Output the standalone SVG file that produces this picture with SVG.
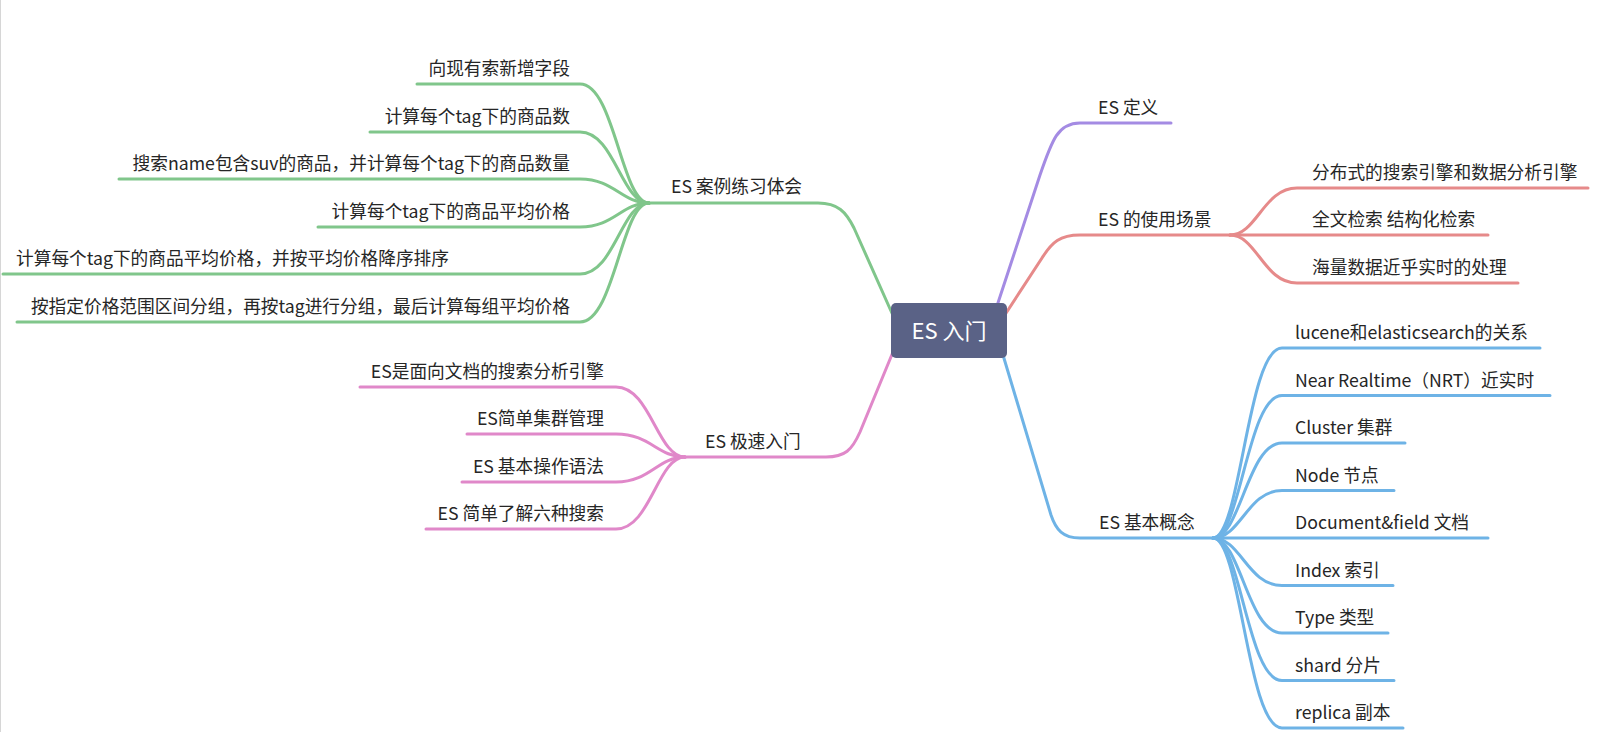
<svg xmlns="http://www.w3.org/2000/svg" width="1619" height="732" viewBox="0 0 1619 732">
<style>
  text { font-family: "Noto Sans CJK SC", "Noto Sans", "Liberation Sans", sans-serif; font-size: 17.7px; fill: #262626; }
  .end { text-anchor: end; }
  .root { fill: #ffffff; font-size: 22px; text-anchor: middle; }
  path { fill: none; stroke-width: 3; stroke-linecap: round; stroke-linejoin: round; }
  .g { stroke: #80c68b; }
  .p { stroke: #a48be3; }
  .r { stroke: #e68a8a; }
  .k { stroke: #e088c9; }
  .b { stroke: #6eb3e6; }
</style>
<rect x="0" y="0" width="1619" height="732" fill="#ffffff"/>
<line x1="0.5" y1="0" x2="0.5" y2="732" stroke="#d6d6d6" stroke-width="1"/>

<g id="connectors">
  <!-- main branches -->
  <path class="g" d="M649 203 H818 C838 203 846 212 854 228 L895 320"/>
  <path class="k" d="M685 457 H826 C845 457 852 450 860 432 L900 335"/>
  <path class="p" d="M1171 123 H1080 C1058 123 1052 140 1040 175 L994 315"/>
  <path class="r" d="M1230 235 H1080 C1060 235 1052 242 1042 258 L995 330"/>
  <path class="b" d="M1213 538 H1080 C1063 538 1056 530 1051 515 L1000 345"/>
  <!-- green children -->
  <path class="g" d="M417 84 H580 C614.5 84 621.4 203 649 203"/>
  <path class="g" d="M370 132 H580 C614.5 132 621.4 203 649 203"/>
  <path class="g" d="M119 179 H580 C614.5 179 621.4 203 649 203"/>
  <path class="g" d="M318 227 H580 C614.5 227 621.4 203 649 203"/>
  <path class="g" d="M3 274 H580 C614.5 274 621.4 203 649 203"/>
  <path class="g" d="M17 322 H580 C614.5 322 621.4 203 649 203"/>
  <!-- pink children -->
  <path class="k" d="M360 387 H616 C650.5 387 657.4 457 685 457"/>
  <path class="k" d="M467 434 H616 C650.5 434 657.4 457 685 457"/>
  <path class="k" d="M462 482 H616 C650.5 482 657.4 457 685 457"/>
  <path class="k" d="M426 529 H616 C650.5 529 657.4 457 685 457"/>
  <!-- red children -->
  <path class="r" d="M1588 188 H1297 C1263.5 188 1256.8 235 1230 235"/>
  <path class="r" d="M1488 235 H1230"/>
  <path class="r" d="M1518 283 H1297 C1263.5 283 1256.8 235 1230 235"/>
  <!-- blue children -->
  <path class="b" d="M1540 348 H1282 C1247.5 348 1240.6 538 1213 538"/>
  <path class="b" d="M1550 395.5 H1282 C1247.5 395.5 1240.6 538 1213 538"/>
  <path class="b" d="M1405 443 H1282 C1247.5 443 1240.6 538 1213 538"/>
  <path class="b" d="M1394 490.5 H1282 C1247.5 490.5 1240.6 538 1213 538"/>
  <path class="b" d="M1488 538 H1213"/>
  <path class="b" d="M1393 585.5 H1282 C1247.5 585.5 1240.6 538 1213 538"/>
  <path class="b" d="M1388 633 H1282 C1247.5 633 1240.6 538 1213 538"/>
  <path class="b" d="M1394 680.5 H1282 C1247.5 680.5 1240.6 538 1213 538"/>
  <path class="b" d="M1403 728 H1282 C1247.5 728 1240.6 538 1213 538"/>
</g>

<g id="root">
  <rect x="891" y="303" width="116" height="55" rx="5" fill="#5a6286"/>
  <text class="root" x="949" y="339">ES 入门</text>
</g>

<g id="case"><text x="671" y="193">ES 案例练习体会</text></g>
<g id="case-1"><text class="end" x="570" y="75">向现有索新增字段</text></g>
<g id="case-2"><text class="end" x="570" y="123">计算每个tag下的商品数</text></g>
<g id="case-3"><text class="end" x="570" y="170">搜索name包含suv的商品，并计算每个tag下的商品数量</text></g>
<g id="case-4"><text class="end" x="570" y="218">计算每个tag下的商品平均价格</text></g>
<g id="case-5"><text x="16" y="265">计算每个tag下的商品平均价格，并按平均价格降序排序</text></g>
<g id="case-6"><text class="end" x="570" y="313">按指定价格范围区间分组，再按tag进行分组，最后计算每组平均价格</text></g>

<g id="quick"><text x="705" y="448">ES 极速入门</text></g>
<g id="quick-1"><text class="end" x="604" y="378">ES是面向文档的搜索分析引擎</text></g>
<g id="quick-2"><text class="end" x="604" y="425">ES简单集群管理</text></g>
<g id="quick-3"><text class="end" x="604" y="473">ES 基本操作语法</text></g>
<g id="quick-4"><text class="end" x="604" y="520">ES 简单了解六种搜索</text></g>

<g id="def"><text x="1098" y="114">ES 定义</text></g>

<g id="usage"><text x="1098" y="226">ES 的使用场景</text></g>
<g id="usage-1"><text x="1312" y="179">分布式的搜索引擎和数据分析引擎</text></g>
<g id="usage-2"><text x="1312" y="226">全文检索 结构化检索</text></g>
<g id="usage-3"><text x="1312" y="274">海量数据近乎实时的处理</text></g>

<g id="concept"><text x="1099" y="529">ES 基本概念</text></g>
<g id="concept-1"><text x="1295" y="339">lucene和elasticsearch的关系</text></g>
<g id="concept-2"><text x="1295" y="386.5">Near Realtime（NRT）近实时</text></g>
<g id="concept-3"><text x="1295" y="434">Cluster 集群</text></g>
<g id="concept-4"><text x="1295" y="481.5">Node 节点</text></g>
<g id="concept-5"><text x="1295" y="529">Document&amp;field 文档</text></g>
<g id="concept-6"><text x="1295" y="576.5">Index 索引</text></g>
<g id="concept-7"><text x="1295" y="624">Type 类型</text></g>
<g id="concept-8"><text x="1295" y="671.5">shard 分片</text></g>
<g id="concept-9"><text x="1295" y="719">replica 副本</text></g>
</svg>
